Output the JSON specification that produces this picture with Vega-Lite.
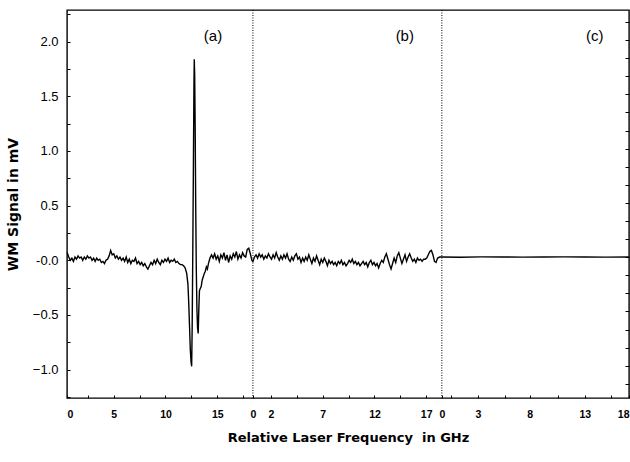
{
  "$schema": "https://vega.github.io/schema/vega-lite/v6.json",
  "background": "white",
  "autosize": {"type": "none"},
  "width": 562,
  "height": 388,
  "padding": {"left": 67, "top": 10, "right": 1, "bottom": 64},
  "config": {
    "view": {"stroke": "black", "strokeWidth": 1.4},
    "font": "Liberation Sans",
    "axis": {"grid": false, "domain": false, "tickColor": "black", "labelColor": "black", "titleColor": "black", "labelOverlap": false, "labelFlush": false}
  },
  "datasets": {
    "trace": [
      {"panel":"a","sweep":0.50,"mV":0.07},{"panel":"a","sweep":0.65,"mV":0.03},{"panel":"a","sweep":0.80,"mV":0.00},{"panel":"a","sweep":0.95,"mV":0.02},
      {"panel":"a","sweep":1.10,"mV":-0.01},{"panel":"a","sweep":1.25,"mV":0.03},{"panel":"a","sweep":1.40,"mV":0.01},{"panel":"a","sweep":1.55,"mV":0.04},
      {"panel":"a","sweep":1.70,"mV":0.02},{"panel":"a","sweep":1.85,"mV":0.03},{"panel":"a","sweep":2.00,"mV":0.00},{"panel":"a","sweep":2.15,"mV":0.03},
      {"panel":"a","sweep":2.30,"mV":0.01},{"panel":"a","sweep":2.45,"mV":0.04},{"panel":"a","sweep":2.60,"mV":0.02},{"panel":"a","sweep":2.75,"mV":0.03},
      {"panel":"a","sweep":2.90,"mV":0.00},{"panel":"a","sweep":3.05,"mV":0.02},{"panel":"a","sweep":3.20,"mV":-0.01},{"panel":"a","sweep":3.35,"mV":0.02},
      {"panel":"a","sweep":3.50,"mV":0.00},{"panel":"a","sweep":3.65,"mV":0.01},{"panel":"a","sweep":3.80,"mV":-0.02},{"panel":"a","sweep":3.95,"mV":-0.01},
      {"panel":"a","sweep":4.10,"mV":-0.03},{"panel":"a","sweep":4.25,"mV":0.00},{"panel":"a","sweep":4.40,"mV":0.01},{"panel":"a","sweep":4.55,"mV":0.04},
      {"panel":"a","sweep":4.70,"mV":0.09},{"panel":"a","sweep":4.85,"mV":0.05},{"panel":"a","sweep":5.00,"mV":0.06},{"panel":"a","sweep":5.15,"mV":0.02},
      {"panel":"a","sweep":5.30,"mV":0.04},{"panel":"a","sweep":5.45,"mV":0.01},{"panel":"a","sweep":5.60,"mV":0.03},{"panel":"a","sweep":5.75,"mV":0.00},
      {"panel":"a","sweep":5.90,"mV":0.02},{"panel":"a","sweep":6.05,"mV":-0.01},{"panel":"a","sweep":6.20,"mV":0.03},{"panel":"a","sweep":6.35,"mV":-0.02},
      {"panel":"a","sweep":6.50,"mV":0.01},{"panel":"a","sweep":6.65,"mV":-0.03},{"panel":"a","sweep":6.80,"mV":0.00},{"panel":"a","sweep":6.95,"mV":-0.01},
      {"panel":"a","sweep":7.10,"mV":0.02},{"panel":"a","sweep":7.25,"mV":-0.03},{"panel":"a","sweep":7.40,"mV":-0.01},{"panel":"a","sweep":7.55,"mV":-0.04},
      {"panel":"a","sweep":7.70,"mV":-0.02},{"panel":"a","sweep":7.85,"mV":-0.05},{"panel":"a","sweep":8.00,"mV":-0.03},{"panel":"a","sweep":8.15,"mV":-0.06},
      {"panel":"a","sweep":8.30,"mV":-0.08},{"panel":"a","sweep":8.45,"mV":-0.05},{"panel":"a","sweep":8.60,"mV":-0.02},{"panel":"a","sweep":8.75,"mV":-0.04},
      {"panel":"a","sweep":8.90,"mV":0.00},{"panel":"a","sweep":9.05,"mV":-0.03},{"panel":"a","sweep":9.20,"mV":0.01},{"panel":"a","sweep":9.35,"mV":-0.02},
      {"panel":"a","sweep":9.50,"mV":-0.04},{"panel":"a","sweep":9.65,"mV":0.00},{"panel":"a","sweep":9.80,"mV":-0.02},{"panel":"a","sweep":9.95,"mV":0.01},
      {"panel":"a","sweep":10.10,"mV":-0.01},{"panel":"a","sweep":10.25,"mV":0.02},{"panel":"a","sweep":10.40,"mV":-0.02},{"panel":"a","sweep":10.55,"mV":0.00},
      {"panel":"a","sweep":10.70,"mV":-0.01},{"panel":"a","sweep":10.85,"mV":0.01},{"panel":"a","sweep":11.00,"mV":-0.02},{"panel":"a","sweep":11.15,"mV":-0.01},
      {"panel":"a","sweep":11.30,"mV":-0.03},{"panel":"a","sweep":11.45,"mV":-0.04},{"panel":"a","sweep":11.60,"mV":-0.04},{"panel":"a","sweep":11.75,"mV":-0.05},
      {"panel":"a","sweep":11.90,"mV":-0.07},{"panel":"a","sweep":12.05,"mV":-0.12},{"panel":"a","sweep":12.17,"mV":-0.22},{"panel":"a","sweep":12.25,"mV":-0.40},
      {"panel":"a","sweep":12.33,"mV":-0.62},{"panel":"a","sweep":12.40,"mV":-0.82},{"panel":"a","sweep":12.47,"mV":-0.93},{"panel":"a","sweep":12.53,"mV":-0.97},
      {"panel":"a","sweep":12.58,"mV":-0.60},{"panel":"a","sweep":12.64,"mV":0.10},{"panel":"a","sweep":12.70,"mV":0.90},{"panel":"a","sweep":12.75,"mV":1.60},
      {"panel":"a","sweep":12.78,"mV":1.84},{"panel":"a","sweep":12.82,"mV":1.70},{"panel":"a","sweep":12.87,"mV":1.20},{"panel":"a","sweep":12.92,"mV":0.50},
      {"panel":"a","sweep":12.98,"mV":-0.10},{"panel":"a","sweep":13.04,"mV":-0.45},{"panel":"a","sweep":13.10,"mV":-0.62},{"panel":"a","sweep":13.16,"mV":-0.67},
      {"panel":"a","sweep":13.22,"mV":-0.45},{"panel":"a","sweep":13.28,"mV":-0.28},{"panel":"a","sweep":13.35,"mV":-0.26},{"panel":"a","sweep":13.45,"mV":-0.24},
      {"panel":"a","sweep":13.55,"mV":-0.18},{"panel":"a","sweep":13.65,"mV":-0.15},{"panel":"a","sweep":13.75,"mV":-0.12},{"panel":"a","sweep":13.85,"mV":-0.10},
      {"panel":"a","sweep":13.95,"mV":-0.06},{"panel":"a","sweep":14.05,"mV":-0.08},{"panel":"a","sweep":14.15,"mV":-0.03},{"panel":"a","sweep":14.30,"mV":0.02},
      {"panel":"a","sweep":14.45,"mV":0.05},{"panel":"a","sweep":14.60,"mV":0.02},{"panel":"a","sweep":14.75,"mV":0.06},{"panel":"a","sweep":14.90,"mV":0.01},
      {"panel":"a","sweep":15.05,"mV":0.04},{"panel":"a","sweep":15.20,"mV":-0.01},{"panel":"a","sweep":15.35,"mV":0.05},{"panel":"a","sweep":15.50,"mV":0.02},
      {"panel":"a","sweep":15.65,"mV":0.07},{"panel":"a","sweep":15.80,"mV":0.00},{"panel":"a","sweep":15.95,"mV":0.05},{"panel":"a","sweep":16.10,"mV":-0.02},
      {"panel":"a","sweep":16.25,"mV":0.04},{"panel":"a","sweep":16.40,"mV":0.01},{"panel":"a","sweep":16.55,"mV":0.06},{"panel":"a","sweep":16.70,"mV":0.03},
      {"panel":"a","sweep":16.85,"mV":0.08},{"panel":"a","sweep":17.00,"mV":0.01},{"panel":"a","sweep":17.15,"mV":0.05},{"panel":"a","sweep":17.30,"mV":0.02},
      {"panel":"a","sweep":17.45,"mV":0.07},{"panel":"a","sweep":17.60,"mV":0.04},{"panel":"a","sweep":17.75,"mV":0.03},{"panel":"a","sweep":17.90,"mV":0.10},
      {"panel":"a","sweep":18.05,"mV":0.11},{"panel":"a","sweep":18.20,"mV":0.06},{"panel":"a","sweep":18.35,"mV":0.00},
      {"panel":"b","sweep":18.45,"mV":-0.01},{"panel":"b","sweep":18.60,"mV":0.03},{"panel":"b","sweep":18.75,"mV":0.05},{"panel":"b","sweep":18.90,"mV":0.02},
      {"panel":"b","sweep":19.05,"mV":0.06},{"panel":"b","sweep":19.20,"mV":0.03},{"panel":"b","sweep":19.35,"mV":0.05},{"panel":"b","sweep":19.50,"mV":0.01},
      {"panel":"b","sweep":19.65,"mV":0.04},{"panel":"b","sweep":19.80,"mV":0.02},{"panel":"b","sweep":19.95,"mV":0.06},{"panel":"b","sweep":20.10,"mV":0.03},
      {"panel":"b","sweep":20.25,"mV":0.01},{"panel":"b","sweep":20.40,"mV":0.05},{"panel":"b","sweep":20.55,"mV":0.02},{"panel":"b","sweep":20.70,"mV":0.07},
      {"panel":"b","sweep":20.85,"mV":0.03},{"panel":"b","sweep":21.00,"mV":0.00},{"panel":"b","sweep":21.15,"mV":0.04},{"panel":"b","sweep":21.30,"mV":0.01},
      {"panel":"b","sweep":21.45,"mV":0.05},{"panel":"b","sweep":21.60,"mV":0.02},{"panel":"b","sweep":21.75,"mV":0.06},{"panel":"b","sweep":21.90,"mV":0.01},
      {"panel":"b","sweep":22.05,"mV":-0.01},{"panel":"b","sweep":22.20,"mV":0.03},{"panel":"b","sweep":22.35,"mV":0.00},{"panel":"b","sweep":22.50,"mV":0.04},
      {"panel":"b","sweep":22.65,"mV":0.06},{"panel":"b","sweep":22.80,"mV":0.01},{"panel":"b","sweep":22.95,"mV":0.03},{"panel":"b","sweep":23.10,"mV":-0.02},
      {"panel":"b","sweep":23.25,"mV":0.02},{"panel":"b","sweep":23.40,"mV":-0.01},{"panel":"b","sweep":23.55,"mV":0.03},{"panel":"b","sweep":23.70,"mV":0.00},
      {"panel":"b","sweep":23.85,"mV":0.05},{"panel":"b","sweep":24.00,"mV":0.01},{"panel":"b","sweep":24.15,"mV":-0.03},{"panel":"b","sweep":24.30,"mV":0.02},
      {"panel":"b","sweep":24.45,"mV":-0.01},{"panel":"b","sweep":24.60,"mV":0.04},{"panel":"b","sweep":24.75,"mV":0.00},{"panel":"b","sweep":24.90,"mV":-0.04},
      {"panel":"b","sweep":25.05,"mV":0.01},{"panel":"b","sweep":25.20,"mV":-0.02},{"panel":"b","sweep":25.35,"mV":0.02},{"panel":"b","sweep":25.50,"mV":-0.01},
      {"panel":"b","sweep":25.65,"mV":-0.05},{"panel":"b","sweep":25.80,"mV":0.00},{"panel":"b","sweep":25.95,"mV":-0.03},{"panel":"b","sweep":26.10,"mV":-0.01},
      {"panel":"b","sweep":26.25,"mV":-0.04},{"panel":"b","sweep":26.40,"mV":-0.02},{"panel":"b","sweep":26.55,"mV":-0.05},{"panel":"b","sweep":26.70,"mV":-0.01},
      {"panel":"b","sweep":26.85,"mV":-0.03},{"panel":"b","sweep":27.00,"mV":0.00},{"panel":"b","sweep":27.15,"mV":-0.04},{"panel":"b","sweep":27.30,"mV":-0.02},
      {"panel":"b","sweep":27.45,"mV":-0.05},{"panel":"b","sweep":27.60,"mV":-0.03},{"panel":"b","sweep":27.75,"mV":0.00},{"panel":"b","sweep":27.90,"mV":-0.02},
      {"panel":"b","sweep":28.05,"mV":0.01},{"panel":"b","sweep":28.20,"mV":-0.03},{"panel":"b","sweep":28.35,"mV":-0.01},{"panel":"b","sweep":28.50,"mV":-0.04},
      {"panel":"b","sweep":28.65,"mV":-0.02},{"panel":"b","sweep":28.80,"mV":-0.05},{"panel":"b","sweep":28.95,"mV":-0.03},{"panel":"b","sweep":29.10,"mV":-0.01},
      {"panel":"b","sweep":29.25,"mV":-0.04},{"panel":"b","sweep":29.40,"mV":-0.02},{"panel":"b","sweep":29.55,"mV":-0.06},{"panel":"b","sweep":29.70,"mV":-0.02},
      {"panel":"b","sweep":29.85,"mV":0.00},{"panel":"b","sweep":30.00,"mV":-0.04},{"panel":"b","sweep":30.15,"mV":-0.02},{"panel":"b","sweep":30.30,"mV":-0.05},
      {"panel":"b","sweep":30.45,"mV":-0.03},{"panel":"b","sweep":30.60,"mV":-0.07},{"panel":"b","sweep":30.75,"mV":-0.03},{"panel":"b","sweep":30.90,"mV":0.00},
      {"panel":"b","sweep":31.05,"mV":-0.02},{"panel":"b","sweep":31.20,"mV":0.03},{"panel":"b","sweep":31.35,"mV":0.06},{"panel":"b","sweep":31.50,"mV":0.01},
      {"panel":"b","sweep":31.65,"mV":-0.04},{"panel":"b","sweep":31.80,"mV":-0.08},{"panel":"b","sweep":31.95,"mV":-0.03},{"panel":"b","sweep":32.10,"mV":0.02},
      {"panel":"b","sweep":32.25,"mV":-0.02},{"panel":"b","sweep":32.40,"mV":0.04},{"panel":"b","sweep":32.55,"mV":0.07},{"panel":"b","sweep":32.70,"mV":0.02},
      {"panel":"b","sweep":32.85,"mV":-0.03},{"panel":"b","sweep":33.00,"mV":0.01},{"panel":"b","sweep":33.15,"mV":0.05},{"panel":"b","sweep":33.30,"mV":-0.01},
      {"panel":"b","sweep":33.45,"mV":0.03},{"panel":"b","sweep":33.60,"mV":0.06},{"panel":"b","sweep":33.75,"mV":0.02},{"panel":"b","sweep":33.90,"mV":-0.01},
      {"panel":"b","sweep":34.05,"mV":0.01},{"panel":"b","sweep":34.20,"mV":-0.02},{"panel":"b","sweep":34.35,"mV":0.02},{"panel":"b","sweep":34.50,"mV":0.00},
      {"panel":"b","sweep":34.65,"mV":0.01},{"panel":"b","sweep":34.80,"mV":-0.01},{"panel":"b","sweep":34.95,"mV":0.01},{"panel":"b","sweep":35.10,"mV":0.01},
      {"panel":"b","sweep":35.25,"mV":0.02},{"panel":"b","sweep":35.40,"mV":0.05},{"panel":"b","sweep":35.55,"mV":0.08},{"panel":"b","sweep":35.70,"mV":0.09},
      {"panel":"b","sweep":35.85,"mV":0.05},{"panel":"b","sweep":36.00,"mV":-0.01},{"panel":"b","sweep":36.15,"mV":-0.02},{"panel":"b","sweep":36.30,"mV":0.02},
      {"panel":"b","sweep":36.50,"mV":0.03},
      {"panel":"c","sweep":36.71,"mV":0.030},{"panel":"c","sweep":38.5,"mV":0.028},{"panel":"c","sweep":40.5,"mV":0.031},{"panel":"c","sweep":42.5,"mV":0.030},
      {"panel":"c","sweep":44.5,"mV":0.029},{"panel":"c","sweep":46.5,"mV":0.030},{"panel":"c","sweep":48.5,"mV":0.031},{"panel":"c","sweep":50.5,"mV":0.030},
      {"panel":"c","sweep":52.5,"mV":0.029},{"panel":"c","sweep":54.8,"mV":0.030}
    ]
  },
  "layer": [
    {
      "data": {"name": "trace"},
      "mark": {"type": "line", "color": "black", "strokeWidth": 1.4},
      "encoding": {
        "x": {"field": "sweep", "type": "quantitative",
              "scale": {"domain": [0.48, 54.8], "nice": false, "zero": false},
              "axis": {"orient": "bottom", "title": "Relative Laser Frequency\u00a0 in GHz",
                       "titleFont": "DejaVu Sans", "titleFontSize": 13, "titleFontWeight": "bold", "titlePadding": 12,
                       "labelOverlap": false, "labelFlush": false, "tickCount": 200,
                       "values": [0.48, 2.5, 5, 7.5, 10, 12.5, 15, 17.5, 18.45, 20.2, 22.7, 25.2, 27.7, 30.2, 32.7, 35.2, 36.71, 37.64, 40.2, 42.79, 45.21, 47.89, 50.53, 53.04, 54.8],
                       "labelExpr": "datum.value < 1 ? '0' : datum.value == 5 ? '5' : datum.value == 10 ? '10' : datum.value == 15 ? '15' : datum.value == 18.45 ? '0' : datum.value == 20.2 ? '2' : datum.value == 25.2 ? '7' : datum.value == 30.2 ? '12' : datum.value == 35.2 ? '17' : datum.value == 36.71 ? '0' : datum.value == 40.2 ? '3' : datum.value == 45.21 ? '8' : datum.value == 50.53 ? '13' : datum.value == 54.8 ? '18' : ''",
                       "labelAlign": {"condition": [{"test": "datum.value < 1", "value": "left"}, {"test": "datum.value > 54", "value": "right"}], "value": "center"},
                       "tickSize": -3, "labelPadding": 14, "labelFontSize": 10.5, "labelFontWeight": "bold"}},
        "y": {"field": "mV", "type": "quantitative",
              "scale": {"domain": [-1.26, 2.29], "nice": false, "zero": false},
              "axis": {"orient": "left", "title": "WM Signal in mV", "titleFont": "DejaVu Sans", "titleFontSize": 14, "titleFontWeight": "bold", "titlePadding": 12,
                       "labelOverlap": false, "tickCount": 200,
                       "values": [-1.25, -1, -0.75, -0.5, -0.25, 0, 0.25, 0.5, 0.75, 1, 1.25, 1.5, 1.75, 2, 2.25],
                       "labelExpr": "datum.value == 0 ? '-0.0' : (datum.value == 2 || datum.value == 1.5 || datum.value == 1 || datum.value == 0.5 || datum.value == -0.5 || datum.value == -1) ? format(datum.value, '.1f') : ''",
                       "tickSize": -3, "labelPadding": 12, "labelFontSize": 13}}
      }
    },
    {
      "data": {"values": [{"sweep": 18.45}, {"sweep": 36.71}]},
      "mark": {"type": "rule", "color": "black", "strokeWidth": 1, "strokeDash": [1, 1.5]},
      "encoding": {"x": {"field": "sweep", "type": "quantitative"}}
    },
    {
      "data": {"values": [{"mV": 0.03}]},
      "mark": {"type": "point", "opacity": 0},
      "encoding": {"y": {"field": "mV", "type": "quantitative",
                         "axis": {"orient": "right", "title": null, "labels": false, "tickSize": -4, "tickCount": 200,
                                  "values": [2.18, 2.0145, 1.849, 1.6835, 1.518, 1.3525, 1.187, 1.0215, 0.856, 0.6905, 0.525, 0.3595, 0.194, 0.0285, -0.137, -0.3025, -0.468, -0.6335, -0.799, -0.9645, -1.13]}}}
    },
    {
      "data": {"values": [{"sweep": 14.59, "mV": 2.05, "tag": "(a)"}, {"sweep": 33.13, "mV": 2.05, "tag": "(b)"}, {"sweep": 51.49, "mV": 2.05, "tag": "(c)"}]},
      "mark": {"type": "text", "fontSize": 15, "font": "Liberation Sans", "color": "black"},
      "encoding": {"x": {"field": "sweep", "type": "quantitative"},
                   "y": {"field": "mV", "type": "quantitative", "axis": null},
                   "text": {"field": "tag"}}
    }
  ],
  "resolve": {"axis": {"y": "independent"}}
}
